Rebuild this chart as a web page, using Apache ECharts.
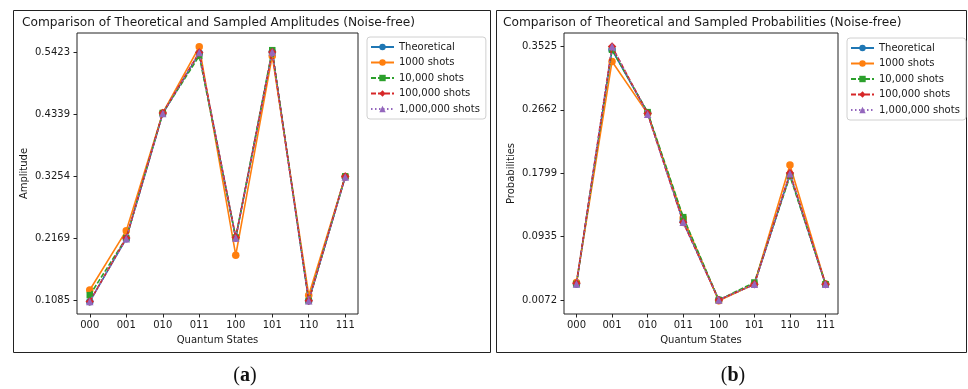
<!DOCTYPE html>
<html><head><meta charset="utf-8">
<script src="https://cdn.jsdelivr.net/npm/echarts@6/dist/echarts.min.js"></script>
<style>html,body{margin:0;padding:0;background:#fff}#c{width:968px;height:389px}</style>
</head><body><div id="c"></div>
<script>
const categories = ['000','001','010','011','100','101','110','111'];
const seriesNames = ['Theoretical','1000 shots','10,000 shots','100,000 shots','1,000,000 shots'];

const ampTheoretical = [0.1055, 0.216, 0.435, 0.541, 0.217, 0.543, 0.107, 0.324];
const amp1000        = [0.126, 0.230, 0.436, 0.552, 0.187, 0.536, 0.117, 0.325];
const amp10000       = [0.117, 0.217, 0.436, 0.536, 0.218, 0.546, 0.107, 0.325];
const amp100000      = [0.106, 0.217, 0.436, 0.542, 0.218, 0.543, 0.107, 0.325];
const amp1000000     = [0.106, 0.216, 0.435, 0.542, 0.217, 0.543, 0.107, 0.324];

const probTheoretical = [0.029, 0.348, 0.262, 0.114, 0.0072, 0.0286, 0.178, 0.0286];
const prob1000        = [0.031, 0.332, 0.261, 0.119, 0.006, 0.029, 0.191, 0.029];
const prob10000       = [0.029, 0.348, 0.263, 0.120, 0.0072, 0.031, 0.176, 0.0286];
const prob100000      = [0.030, 0.3525, 0.261, 0.113, 0.0072, 0.0286, 0.180, 0.0286];
const prob1000000     = [0.029, 0.3525, 0.260, 0.113, 0.0072, 0.0286, 0.179, 0.0286];

const ampTicks  = [0.1085, 0.2169, 0.3254, 0.4339, 0.5423];
const probTicks = [0.0072, 0.0935, 0.1799, 0.2662, 0.3525];

const colors  = ['#1f77b4','#ff7f0e','#2ca02c','#d62728','#9467bd'];
const symbols = ['circle','circle','rect','diamond','triangle'];
const symSizes = [7.5,7.5,6.5,8.5,7.5];
const lineTypes = ['solid','solid',[5,2],[5,2],[1.5,2.5]];

const F = 'DejaVu Sans';
const txt = '#1a1a1a';

function mkSeries(arrs, axisIdx) {
  return arrs.map((arr, i) => ({
    name: seriesNames[i], type: 'line',
    xAxisIndex: axisIdx, yAxisIndex: axisIdx,
    data: arr.map((v, j) => [j, v]),
    symbol: symbols[i], symbolSize: symSizes[i],
    itemStyle: {color: colors[i]},
    lineStyle: {color: colors[i], width: 1.6, type: lineTypes[i]},
    emphasis: {disabled: true}, animation: false, z: 2 + i
  }));
}

function xAx(gi) {
  return {
    type: 'value', gridIndex: gi, min: -0.35, max: 7.35,
    name: 'Quantum States', nameLocation: 'middle', nameGap: 21,
    nameTextStyle: {fontFamily: F, fontSize: 10, color: txt},
    axisLine: {show: false, onZero: false}, splitLine: {show: false},
    axisTick: {show: true, length: 3.5, lineStyle: {color: '#222'}, customValues: [0,1,2,3,4,5,6,7]},
    axisLabel: {fontFamily: F, fontSize: 10, color: txt, margin: 6, customValues: [0,1,2,3,4,5,6,7],
      formatter: v => categories[Math.round(v)]}
  };
}
function yAx(gi, min, max, ticks, name) {
  return {
    type: 'value', gridIndex: gi, min: min, max: max,
    name: name, nameLocation: 'middle', nameGap: 48,
    nameTextStyle: {fontFamily: F, fontSize: 10, color: txt},
    axisLine: {show: false, onZero: false}, splitLine: {show: false},
    axisTick: {show: true, length: 3.5, lineStyle: {color: '#222'}, customValues: ticks},
    axisLabel: {fontFamily: F, fontSize: 10, color: txt, margin: 7, customValues: ticks,
      formatter: v => v.toFixed(4)}
  };
}
function legend(left, top) {
  return {
    left: left, top: top, orient: 'vertical',
    data: seriesNames,
    itemWidth: 23, itemHeight: 8, itemGap: 3.5,
    padding: [4, 6, 4, 3],
    borderColor: '#d0d0d0', borderWidth: 1, borderRadius: 3, backgroundColor: '#fff',
    textStyle: {fontFamily: F, fontSize: 10, color: txt, lineHeight: 12},
    selectedMode: false
  };
}

const chart = echarts.init(document.getElementById('c'), null, {renderer: 'canvas'});
chart.setOption({
  animation: false,
  backgroundColor: '#fff',
  title: [
    {text: 'Comparison of Theoretical and Sampled Amplitudes (Noise-free)', left: 22, top: 17, padding: 0,
     textStyle: {fontFamily: F, fontSize: 12.2, fontWeight: 'normal', color: txt}},
    {text: 'Comparison of Theoretical and Sampled Probabilities (Noise-free)', left: 503, top: 17, padding: 0,
     textStyle: {fontFamily: F, fontSize: 12.2, fontWeight: 'normal', color: txt}}
  ],
  grid: [
    {left: 77, top: 33, width: 281, height: 281, show: true, borderColor: '#222', borderWidth: 1, backgroundColor: 'transparent'},
    {left: 564, top: 33, width: 274, height: 281, show: true, borderColor: '#222', borderWidth: 1, backgroundColor: 'transparent'}
  ],
  xAxis: [xAx(0), xAx(1)],
  yAxis: [
    yAx(0, 0.0840, 0.5761, ampTicks, 'Amplitude'),
    yAx(1, -0.0119, 0.3708, probTicks, 'Probabilities')
  ],
  legend: [legend(367, 37), legend(847, 38)],
  series: mkSeries([ampTheoretical, amp1000, amp10000, amp100000, amp1000000], 0)
    .concat(mkSeries([probTheoretical, prob1000, prob10000, prob100000, prob1000000], 1)),
  graphic: [
    {type: 'rect', shape: {x: 13.5, y: 10.5, width: 477, height: 342}, style: {fill: 'none', stroke: '#222', lineWidth: 1}, z: 0},
    {type: 'rect', shape: {x: 496.5, y: 10.5, width: 470, height: 342}, style: {fill: 'none', stroke: '#222', lineWidth: 1}, z: 0},
    {type: 'text', style: {text: '{p|(}{b|a}{p|)}', x: 245, y: 376, align: 'center', verticalAlign: 'middle',
      rich: {p: {fontFamily: 'Liberation Serif', fontSize: 20, fill: '#111'}, b: {fontFamily: 'Liberation Serif', fontSize: 20, fontWeight: 'bold', fill: '#111'}}}},
    {type: 'text', style: {text: '{p|(}{b|b}{p|)}', x: 733, y: 376, align: 'center', verticalAlign: 'middle',
      rich: {p: {fontFamily: 'Liberation Serif', fontSize: 20, fill: '#111'}, b: {fontFamily: 'Liberation Serif', fontSize: 20, fontWeight: 'bold', fill: '#111'}}}}
  ]
});
</script></body></html>
